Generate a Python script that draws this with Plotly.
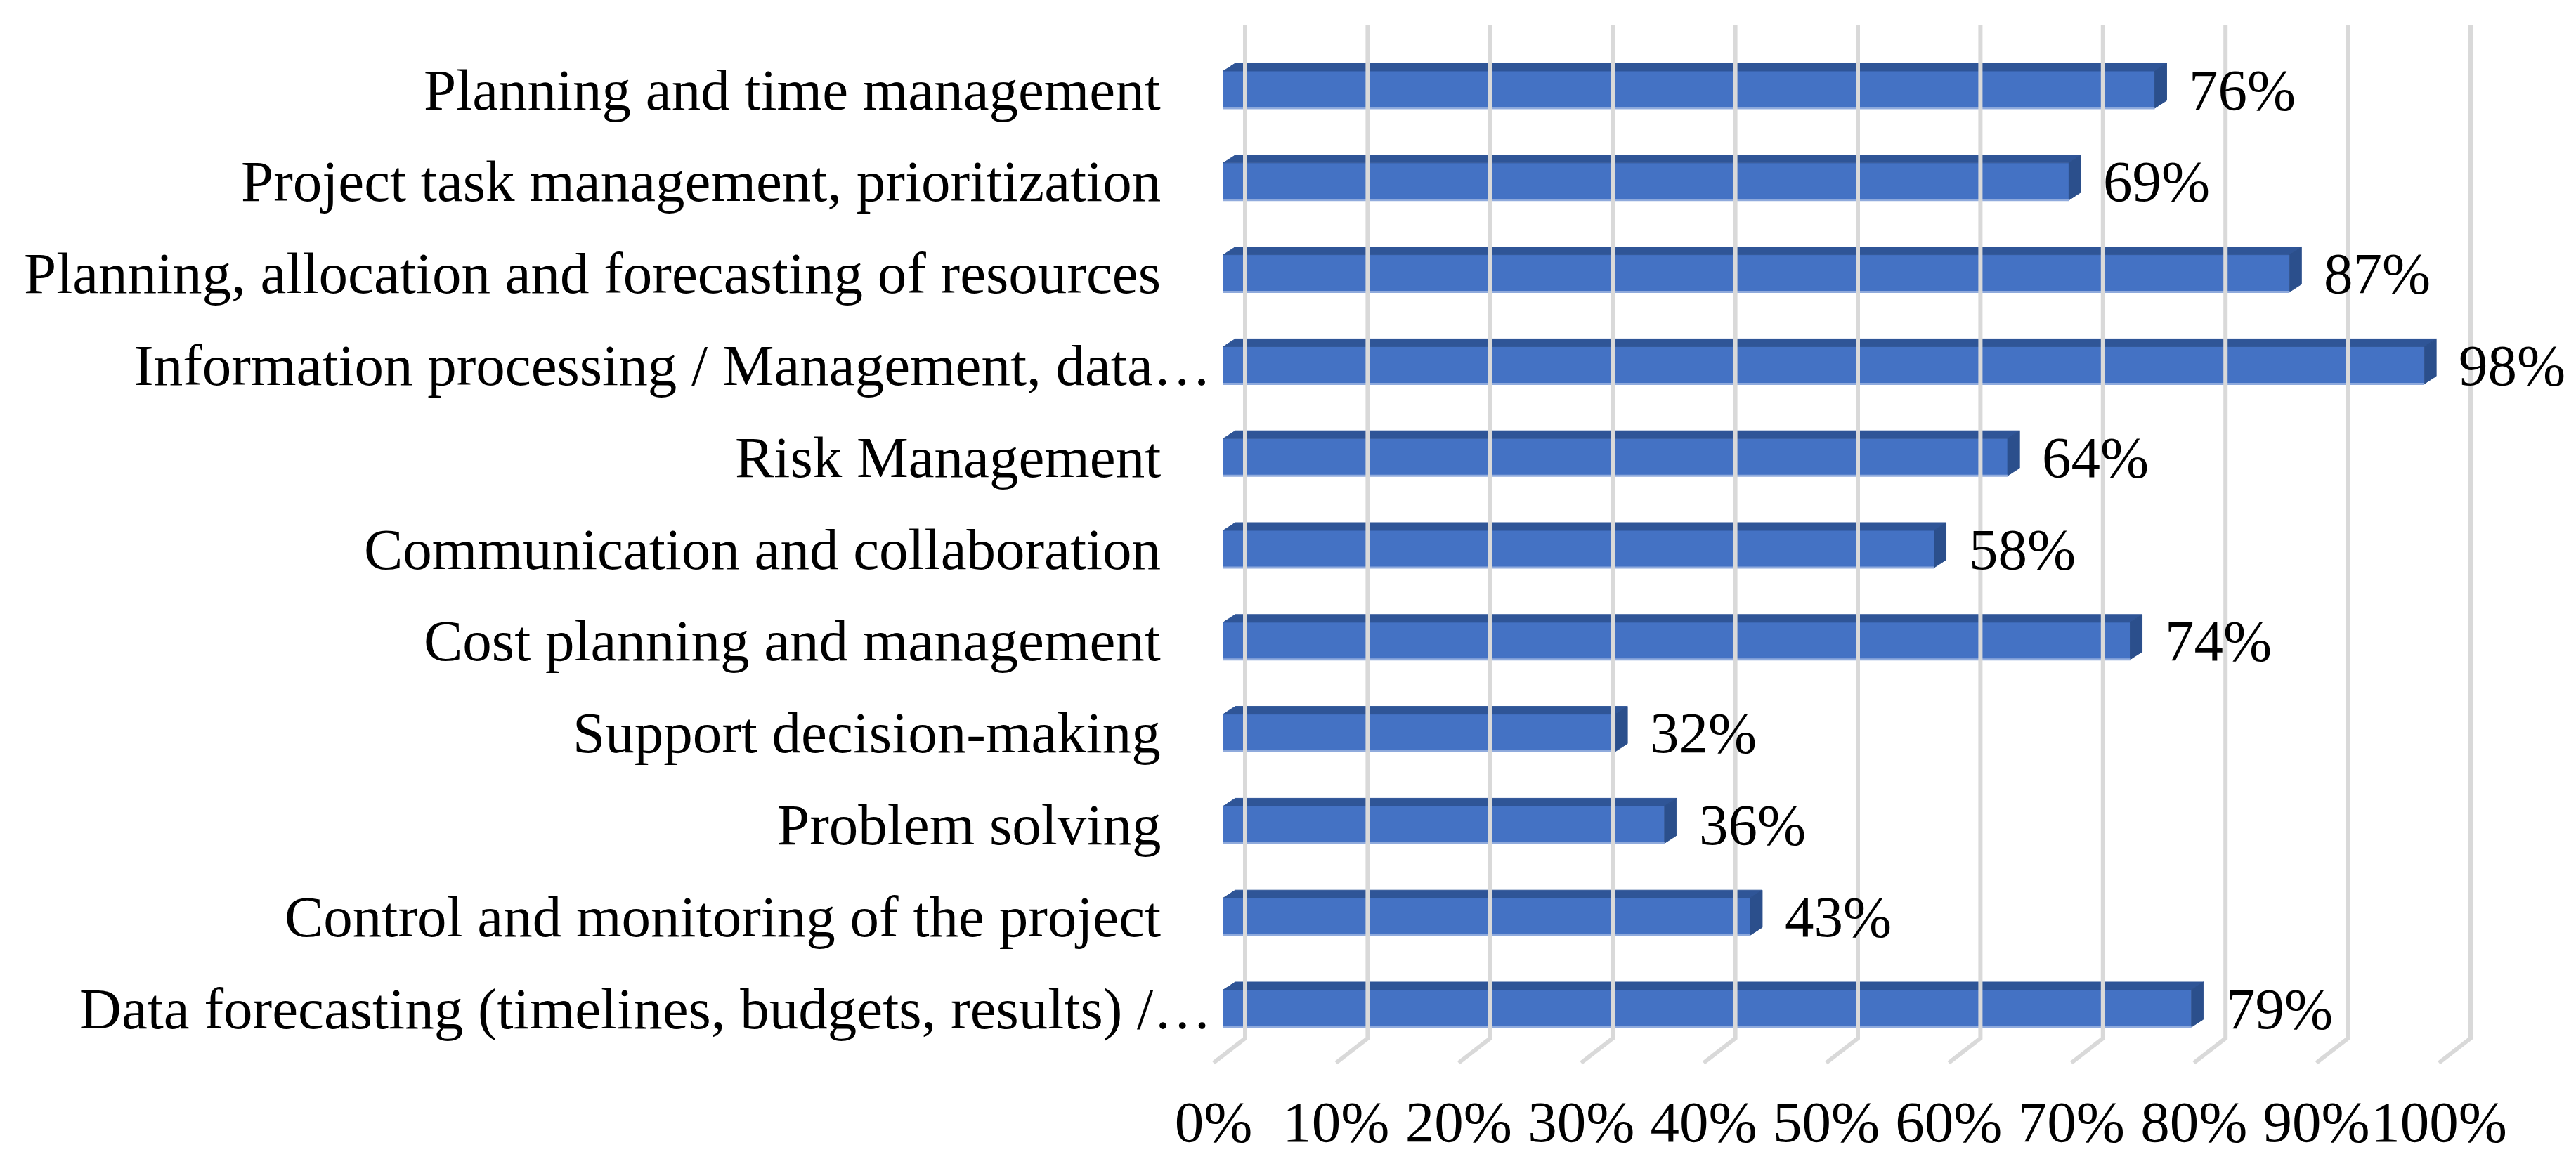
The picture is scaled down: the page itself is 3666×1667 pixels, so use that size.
import plotly.graph_objects as go

# ---------------- data ----------------
categories = [
    "Planning and time management",
    "Project task management, prioritization",
    "Planning, allocation and forecasting of resources",
    "Information processing / Management, data…",
    "Risk Management",
    "Communication and collaboration",
    "Cost planning and management",
    "Support decision-making",
    "Problem solving",
    "Control and monitoring of the project",
    "Data forecasting (timelines, budgets, results) /…",
]
values = [76, 69, 87, 98, 64, 58, 74, 32, 36, 43, 79]
truncated = [False, False, False, True, False, False, False, False, False, False, True]
tick_values = [0, 10, 20, 30, 40, 50, 60, 70, 80, 90, 100]

# ---------------- geometry / style ----------------
W, H = 3666, 1667
PPU = 17.44            # pixels per percent unit
X0 = 1733              # pixel of bar front at 0%
SLOT = 130.8           # pixels per category slot
C0 = 119.5             # pixel centre of first bar
BAR_W = 0.405          # bar thickness (slot fraction)
FONT = "Liberation Serif, Times New Roman, serif"
FS = 83
FRONT = "#4472C4"
TOP = "#2F5597"
SIDE = "#2B4F8C"
GRID = "#D9D9D9"

xr = [-X0 / PPU, (W - X0) / PPU]
yr = [(H - C0) / SLOT, -C0 / SLOT]
dx = 17 / PPU          # depth offset of bar back (x units)
dy = -11 / SLOT        # depth offset of bar back (y units)
floor_shift = 14 / PPU # front floor edge is 14px left of bar front

def ypx(p):
    return (p - C0) / SLOT

n = len(categories)
idx = list(range(n))

fig = go.Figure()

# gridlines on back wall + floor (drawn on x2, whose ticks sit at front floor edge)
gx, gy = [], []
wall = 45 / PPU
for t in tick_values:
    gx += [t + wall, t + wall, t, None]
    gy += [ypx(28), ypx(1470), ypx(1505), None]
fig.add_trace(go.Scatter(x=gx, y=gy, mode="lines", xaxis="x2", yaxis="y",
                         line=dict(color=GRID, width=6), hoverinfo="skip"))

# top faces and side faces
for i, v in zip(idx, values):
    yt = i - BAR_W / 2
    yb = i + BAR_W / 2
    fig.add_trace(go.Scatter(
        x=[0, v, v + dx, dx, 0], y=[yt, yt, yt + dy, yt + dy, yt],
        mode="lines", fill="toself", fillcolor=TOP, line=dict(color=TOP, width=1),
        hoverinfo="skip"))
    fig.add_trace(go.Scatter(
        x=[v, v, v + dx, v + dx, v], y=[yt, yb, yb + dy, yt + dy, yt],
        mode="lines", fill="toself", fillcolor=SIDE, line=dict(color=SIDE, width=1),
        hoverinfo="skip"))

# front faces
fig.add_trace(go.Bar(x=values, y=idx, orientation="h", width=BAR_W,
                     marker=dict(color=FRONT, line=dict(width=0)), hoverinfo="skip"))

# bottom highlight of front faces
hx, hy = [], []
for i, v in zip(idx, values):
    hx += [0, v, None]
    hy += [i + BAR_W / 2, i + BAR_W / 2, None]
fig.add_trace(go.Scatter(x=hx, y=hy, mode="lines", line=dict(color="#8FAADC", width=3),
                         hoverinfo="skip"))

annotations = []
for i, (c, v, tr) in enumerate(zip(categories, values, truncated)):
    annotations.append(dict(
        x=(-15 / PPU) if tr else (-87 / PPU), y=i, xref="x", yref="y",
        text=c, showarrow=False, xanchor="right", yanchor="middle",
        font=dict(family=FONT, size=FS, color="black")))
    annotations.append(dict(
        x=v, y=i, xref="x", yref="y", text=f"{v}%", showarrow=False,
        xanchor="left", yanchor="middle", xshift=47,
        font=dict(family=FONT, size=FS, color="black")))

fig.update_layout(
    width=W, height=H, autosize=False,
    margin=dict(l=0, r=0, t=0, b=0),
    paper_bgcolor="white", plot_bgcolor="white",
    showlegend=False,
    xaxis=dict(range=xr, visible=False, fixedrange=True),
    xaxis2=dict(range=[xr[0] + floor_shift, xr[1] + floor_shift], overlaying="x",
                anchor="free", position=(H - 1533) / H, side="bottom",
                tickvals=tick_values, ticktext=[f"{t}%" for t in tick_values],
                tickangle=0,
                showgrid=False, zeroline=False, showline=False, ticks="",
                tickfont=dict(family=FONT, size=FS, color="black")),
    yaxis=dict(range=yr, visible=False, fixedrange=True),
    annotations=annotations,
)

fig.write_html("out.html")
